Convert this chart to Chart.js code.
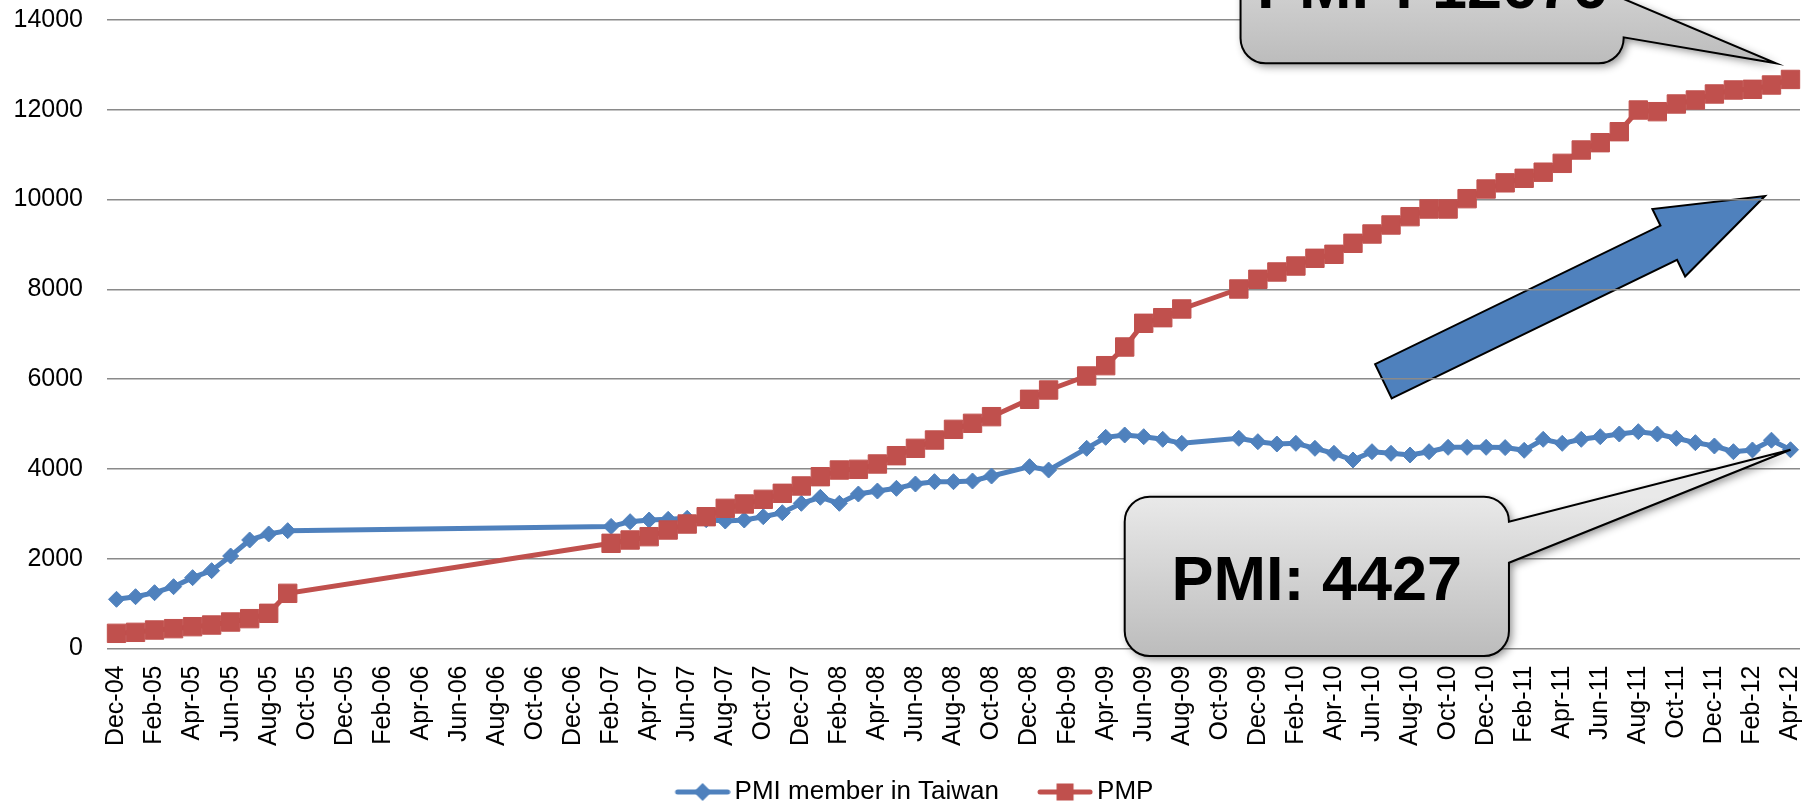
<!DOCTYPE html>
<html>
<head>
<meta charset="utf-8">
<script src="https://cdn.jsdelivr.net/npm/chart.js@4.4.1/dist/chart.umd.min.js"></script>
<style>
  html, body { margin: 0; padding: 0; background: #ffffff; overflow: hidden; }
  #wrap { width: 1816px; height: 804px; position: relative; }
</style>
</head>
<body>
<div id="wrap"><canvas id="c" width="1816" height="804"></canvas></div>
<script>
// ---------- DATA ----------
const categories = [
  'Dec-04',
  'Jan-05','Feb-05','Mar-05','Apr-05','May-05','Jun-05','Jul-05','Aug-05','Sep-05','Oct-05','Nov-05','Dec-05',
  'Jan-06','Feb-06','Mar-06','Apr-06','May-06','Jun-06','Jul-06','Aug-06','Sep-06','Oct-06','Nov-06','Dec-06',
  'Jan-07','Feb-07','Mar-07','Apr-07','May-07','Jun-07','Jul-07','Aug-07','Sep-07','Oct-07','Nov-07','Dec-07',
  'Jan-08','Feb-08','Mar-08','Apr-08','May-08','Jun-08','Jul-08','Aug-08','Sep-08','Oct-08','Nov-08','Dec-08',
  'Jan-09','Feb-09','Mar-09','Apr-09','May-09','Jun-09','Jul-09','Aug-09','Sep-09','Oct-09','Nov-09','Dec-09',
  'Jan-10','Feb-10','Mar-10','Apr-10','May-10','Jun-10','Jul-10','Aug-10','Sep-10','Oct-10','Nov-10','Dec-10',
  'Jan-11','Feb-11','Mar-11','Apr-11','May-11','Jun-11','Jul-11','Aug-11','Sep-11','Oct-11','Nov-11','Dec-11',
  'Jan-12','Feb-12','Mar-12','Apr-12'
];

// PMI member in Taiwan (null = no data that month)
const pmiTaiwan = [
  1096,
  1154, 1243, 1377, 1578, 1734, 2060, 2417, 2551, 2625, null, null, null,
  null, null, null, null, null, null, null, null, null, null, null, null,
  null, 2720, 2825, 2862, 2877, 2900, 2870, 2840, 2862, 2936, 3025, 3234,
  3368, 3234, 3441, 3508, 3568, 3664, 3716, 3716, 3731, 3842, null, 4050,
  3975, null, 4459, 4704, 4756, 4718, 4660, 4570, null, null, 4682, 4607,
  4555, 4570, 4459, 4348, 4199, 4384, 4348, 4310, 4384, 4481, 4481, 4481,
  4475, 4415, 4660, 4570, 4660, 4718, 4778, 4830, 4778, 4682, 4585, 4511,
  4384, 4422, 4640, 4427
];

// PMP
const pmp = [
  338,
  360, 412, 442, 486, 523, 590, 665, 784, 1229, null, null, null,
  null, null, null, null, null, null, null, null, null, null, null, null,
  null, 2343, 2417, 2491, 2640, 2773, 2936, 3122, 3219, 3323, 3457, 3620,
  3827, 3976, 3991, 4110, 4295, 4459, 4644, 4882, 5016, 5164, null, 5551,
  5758, null, 6070, 6300, 6716, 7244, 7369, 7563, null, null, 8008, 8224,
  8387, 8520, 8692, 8781, 9026, 9233, 9434, 9619, 9790, 9790, 10020, 10235,
  10373, 10474, 10610, 10807, 11104, 11267, 11512, 11995, 11958, 12129, 12218, 12352,
  12441, 12456, 12552, 12676
];

const seriesNames = ['PMI member in Taiwan', 'PMP'];
const yTickValues = [0, 2000, 4000, 6000, 8000, 10000, 12000, 14000];
const calloutTexts = ['PMI: 4427', 'PMP: 12676'];

// ---------- STYLE ----------
const BLUE = '#4F81BD';
const RED = '#C0504D';
const FONT = '"Liberation Sans", Arial, Helvetica, sans-serif';

// legend symbol: line + marker, drawn in the right part of a wider transparent canvas
function legendSymbol(color, shape) {
  const c = document.createElement('canvas');
  c.width = 93; c.height = 22;
  const g = c.getContext('2d');
  const o = 37;
  g.strokeStyle = color; g.lineWidth = 5; g.lineCap = 'round';
  g.beginPath(); g.moveTo(o + 3, 11); g.lineTo(o + 53, 11); g.stroke();
  g.fillStyle = color;
  if (shape === 'diamond') {
    g.beginPath(); g.moveTo(o + 28, 2); g.lineTo(o + 37, 11); g.lineTo(o + 28, 20); g.lineTo(o + 19, 11); g.closePath(); g.fill();
  } else {
    g.fillRect(o + 19.5, 2.5, 17, 17);
  }
  return c;
}

// Annotation geometry (anchors in data units: x = category index, y = value)
const annot = {
  arrow: { x0: 66.6, y0: 5952, x1: 86.66, y1: 10080, shaftHalf: 19, headHalf: 37.5, headLen: 107 },
  pmiBox: { left: 53.0, right: 73.2, top: 3381, bottom: -167, tailTop: 2824, tailBottom: 1911, tipX: 88, tipY: 4427, text: calloutTexts[0] },
  pmpBox: { left: 59.09, right: 79.23, top: 16577, bottom: 13035, tailTop: 14468, tailBottom: 13614, tipX: 87.24, tipY: 13035, text: calloutTexts[1] }
};

function calloutPath(ctx, L, T, R, B, r, y1, y2, tx, ty) {
  ctx.beginPath();
  ctx.moveTo(L + r, T);
  ctx.lineTo(R - r, T);
  ctx.arcTo(R, T, R, T + r, r);
  ctx.lineTo(R, y1);
  ctx.lineTo(tx, ty);
  ctx.lineTo(R, y2);
  ctx.lineTo(R, B - r);
  ctx.arcTo(R, B, R - r, B, r);
  ctx.lineTo(L + r, B);
  ctx.arcTo(L, B, L, B - r, r);
  ctx.lineTo(L, T + r);
  ctx.arcTo(L, T, L + r, T, r);
  ctx.closePath();
}

function drawCallout(chart, b) {
  const xs = chart.scales.x, ys = chart.scales.y, ctx = chart.ctx;
  const L = xs.getPixelForValue(b.left), R = xs.getPixelForValue(b.right);
  const T = ys.getPixelForValue(b.top), B = ys.getPixelForValue(b.bottom);
  const y1 = ys.getPixelForValue(b.tailTop), y2 = ys.getPixelForValue(b.tailBottom);
  const tx = xs.getPixelForValue(b.tipX), ty = ys.getPixelForValue(b.tipY);
  ctx.save();
  const grad = ctx.createLinearGradient(0, T, 0, B);
  grad.addColorStop(0, '#e9e9e9');
  grad.addColorStop(1, '#bcbcbc');
  calloutPath(ctx, L, T, R, B, 25, y1, y2, tx, ty);
  ctx.shadowColor = 'rgba(0,0,0,0.45)';
  ctx.shadowBlur = 8;
  ctx.shadowOffsetX = 3;
  ctx.shadowOffsetY = 3;
  ctx.fillStyle = grad;
  ctx.fill();
  ctx.shadowColor = 'transparent';
  ctx.lineWidth = 2;
  ctx.strokeStyle = '#000';
  ctx.stroke();
  ctx.fillStyle = '#000';
  ctx.font = 'bold 63px ' + FONT;
  ctx.textAlign = 'center';
  ctx.textBaseline = 'alphabetic';
  ctx.fillText(b.text, (L + R) / 2, T + 103.3);
  ctx.restore();
}

function drawArrow(chart, a) {
  const xs = chart.scales.x, ys = chart.scales.y, ctx = chart.ctx;
  const x0 = xs.getPixelForValue(a.x0), y0 = ys.getPixelForValue(a.y0);
  const x1 = xs.getPixelForValue(a.x1), y1 = ys.getPixelForValue(a.y1);
  const dx = x1 - x0, dy = y1 - y0, len = Math.hypot(dx, dy);
  const ux = dx / len, uy = dy / len, nx = -uy, ny = ux;
  const bx = x1 - ux * a.headLen, by = y1 - uy * a.headLen;
  const s = a.shaftHalf, h = a.headHalf;
  ctx.save();
  ctx.beginPath();
  ctx.moveTo(x0 + nx * s, y0 + ny * s);
  ctx.lineTo(bx + nx * s, by + ny * s);
  ctx.lineTo(bx + nx * h, by + ny * h);
  ctx.lineTo(x1, y1);
  ctx.lineTo(bx - nx * h, by - ny * h);
  ctx.lineTo(bx - nx * s, by - ny * s);
  ctx.lineTo(x0 - nx * s, y0 - ny * s);
  ctx.closePath();
  ctx.fillStyle = BLUE;
  ctx.fill();
  ctx.lineWidth = 2;
  ctx.strokeStyle = '#000';
  ctx.lineJoin = 'miter';
  ctx.stroke();
  ctx.restore();
}

const annotationPlugin = {
  id: 'annotations',
  beforeDraw(chart) { drawArrow(chart, annot.arrow); },
  afterDraw(chart) {
    drawCallout(chart, annot.pmpBox);
    drawCallout(chart, annot.pmiBox);
  }
};

const legendImgs = [legendSymbol(BLUE, 'diamond'), legendSymbol(RED, 'square')];

new Chart(document.getElementById('c'), {
  type: 'line',
  data: {
    labels: categories,
    datasets: [
      {
        label: seriesNames[0],
        data: pmiTaiwan,
        borderColor: BLUE,
        backgroundColor: BLUE,
        borderWidth: 5,
        pointStyle: 'rectRot',
        pointRadius: 8,
        pointBorderWidth: 1,
        pointBackgroundColor: BLUE,
        pointBorderColor: BLUE,
        spanGaps: true,
        tension: 0,
        order: 1
      },
      {
        label: seriesNames[1],
        data: pmp,
        borderColor: RED,
        backgroundColor: RED,
        borderWidth: 5,
        pointStyle: 'rect',
        pointRadius: 13,
        pointBorderWidth: 1,
        pointBackgroundColor: RED,
        pointBorderColor: RED,
        spanGaps: true,
        tension: 0,
        order: 0
      }
    ]
  },
  options: {
    responsive: false,
    animation: false,
    devicePixelRatio: 1,
    layout: { padding: { top: 20, left: 0, right: 16, bottom: -11 } },
    scales: {
      x: {
        type: 'category',
        offset: true,
        grid: { display: false, drawTicks: false },
        border: { display: false },
        ticks: {
          autoSkip: false,
          minRotation: 90,
          maxRotation: 90,
          padding: 17,
          color: '#000',
          font: { family: FONT, size: 25 },
          callback: function (v, i) { return i % 2 === 0 ? categories[i] : ''; }
        },
        afterFit: function (s) { s.height = 120.5; s.paddingLeft = 0; s.paddingRight = 0; }
      },
      y: {
        min: yTickValues[0],
        max: yTickValues[yTickValues.length - 1],
        grid: { color: '#8a8a8a', lineWidth: 1.5, drawTicks: false },
        border: { display: false },
        ticks: {
          stepSize: 2000,
          padding: 24,
          color: '#000',
          font: { family: FONT, size: 25 },
          callback: function (v) { return String(v); }
        },
        afterFit: function (s) { s.width = 107; s.paddingTop = 0; s.paddingBottom = 0; }
      }
    },
    plugins: {
      tooltip: { enabled: false },
      legend: {
        position: 'bottom',
        labels: {
          usePointStyle: true,
          pointStyleWidth: 75,
          padding: 10,
          color: '#000',
          font: { family: FONT, size: 26 },
          generateLabels: function (chart) {
            return seriesNames.map(function (name, i) {
              return {
                text: name,
                fillStyle: i === 0 ? BLUE : RED,
                strokeStyle: i === 0 ? BLUE : RED,
                lineWidth: 0,
                pointStyle: legendImgs[i],
                hidden: false,
                datasetIndex: i,
                fontColor: '#000'
              };
            });
          }
        }
      }
    }
  },
  plugins: [annotationPlugin]
});
</script>
</body>
</html>
